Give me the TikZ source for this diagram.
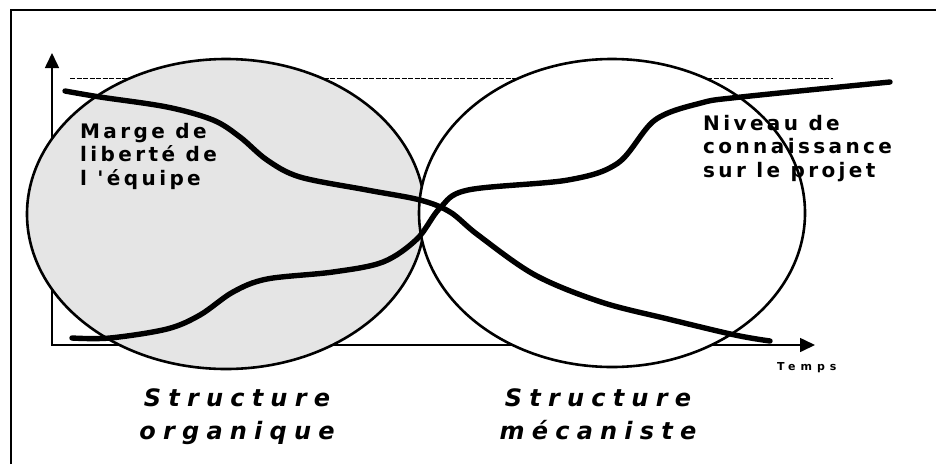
\documentclass[tikz,border=0pt]{standalone}
\usepackage{fontspec}
\setmainfont{DejaVu Sans}
\newfontfamily\lblfont{DejaVu Sans Bold}[LetterSpace=17]
\newfontfamily\titrefont{DejaVu Sans Bold Oblique}[LetterSpace=30]
\newfontfamily\tempsfont{DejaVu Sans Bold}[LetterSpace=45]
\usetikzlibrary{shapes.geometric, arrows.meta}

\begin{document}
\begin{tikzpicture}[
  x=1pt, y=-1pt,
  zone/.style={draw, ellipse, line width=2.6pt, inner sep=0pt},
  courbe/.style={line width=5.4pt, line cap=round, line join=round},
  axe/.style={line width=1.6pt,
    {Triangle[length=15pt, width=14pt]}-{Triangle[length=15pt, width=14pt]}},
  plafond/.style={line width=1pt, dash pattern=on 5pt off 1.5pt},
  lbl/.style={inner sep=0pt, align=left,
    font=\lblfont\fontsize{20}{23.5}\selectfont},
  titre/.style={inner sep=0pt, align=center,
    font=\titrefont\fontsize{24}{33}\selectfont},
  temps/.style={inner sep=0pt, font=\tempsfont\fontsize{11}{13}\selectfont}
]
\useasboundingbox (0,0) rectangle (936,464);
\draw[line width=2.2pt] (11,464) -- (11,10) -- (936,10);

\coordinate (origine) at (52,345);
\coordinate (ytip) at (52,53);
\coordinate (xtip) at (815,345);
\coordinate (plafondg) at (70,78);
\coordinate (plafondd) at (833,78);

\draw[plafond] (plafondg) -- (plafondd);
\draw[axe] (ytip) -- (origine) -- (xtip);

\node[zone, fill=black!10, minimum width=398pt, minimum height=310pt]
  (organique) at (226,214) {};
\node[zone, fill=white, minimum width=386pt, minimum height=308pt]
  (mecaniste) at (612,213) {};

\node[lbl, anchor=north west] (marge) at (80,123)
  {Marge de\\liberté de\\l 'équipe};
\node[lbl, anchor=north west] (niveau) at (703,115)
  {Niveau de\\connaissance\\sur le projet};
\node[temps, anchor=base west] (tps) at (777,370) {Temps};

\node[titre, anchor=north] (torg) at (237,388) {Structure\\organique};
\node[titre, anchor=north] (tmec) at (598,388) {Structure\\mécaniste};

\draw[courbe] plot[smooth, tension=0.55] coordinates {
  (65,91) (100,97) (167,107) (213,120) (240,137) (267,160) (300,177)
  (367,190) (420,200) (450,212) (478,235) (535,275) (601,302)
  (668,319) (735,335) (770,341)};
\draw[courbe] plot[smooth, tension=0.55] coordinates {
  (72,338) (110,338) (167,329) (200,315) (233,292) (267,279) (333,272)
  (383,262) (417,239) (440,208) (468,190) (568,180) (618,163)
  (655,120) (701,103) (741,97) (890,82)};
\end{tikzpicture}
\end{document}
